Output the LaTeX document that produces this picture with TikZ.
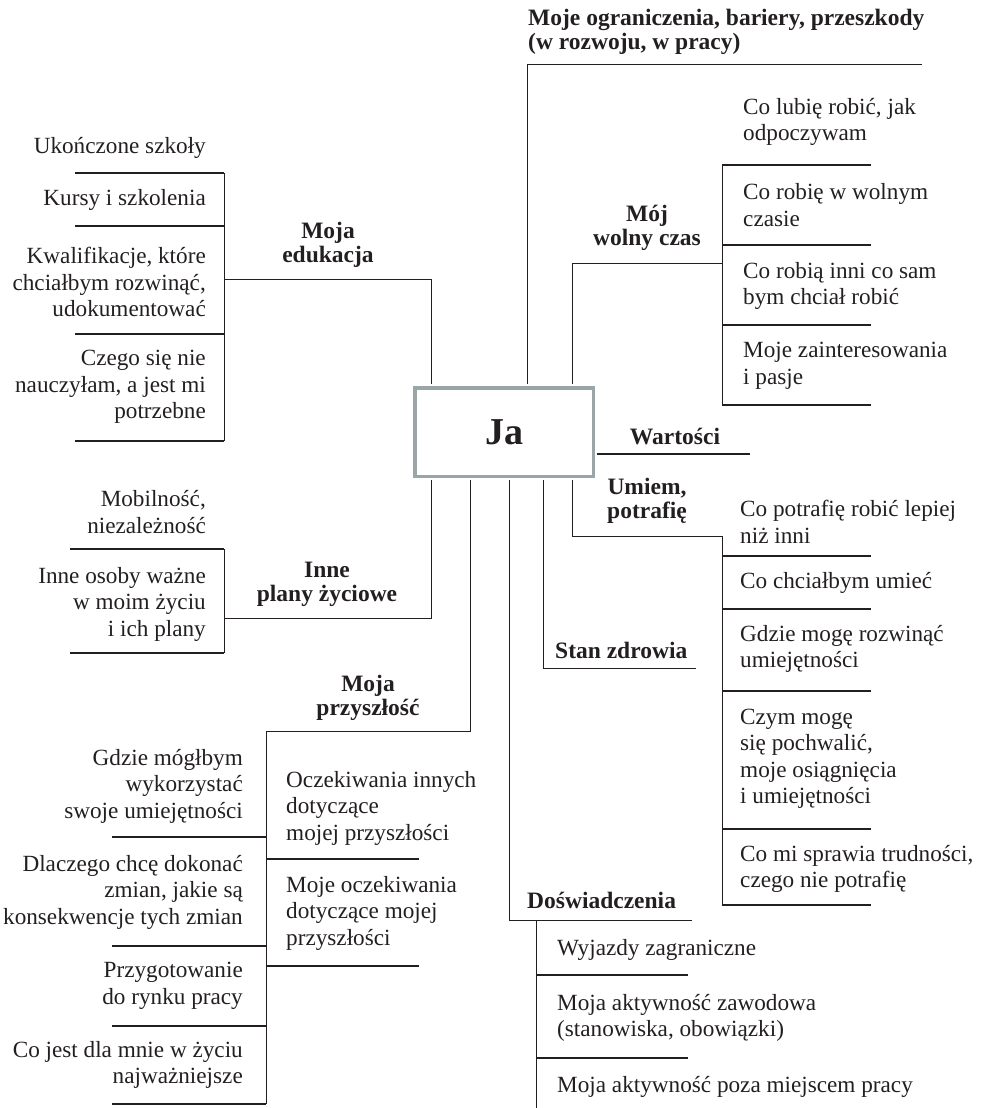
\documentclass[tikz,border=0pt]{standalone}
\usepackage{fontspec}
\setmainfont{Liberation Serif}
\usepackage{xcolor}
\usetikzlibrary{positioning}

\definecolor{ink}{HTML}{231F20}
\definecolor{boxgray}{HTML}{9AA5A8}

\begin{document}
\begin{tikzpicture}[x=1pt,y=-1pt,
      item/.style={
         font=\fontsize{23.2}{26.5}\selectfont,
         text=ink,
         inner sep=0pt},
      itemr/.style={item, align=right, anchor=east},
      iteml/.style={item, align=left, anchor=west},
      topic/.style={
         font=\fontsize{23.5}{24}\selectfont\bfseries,
         text=ink,
         inner sep=0pt,
         align=center},
      jabox/.style={
         draw=boxgray,
         line width=3.5pt,
         minimum width=178.5pt,
         minimum height=88.5pt,
         font=\fontsize{38}{40}\selectfont\bfseries,
         text=ink},
      conn/.style={draw=ink, line width=1pt},
      fromja/.style={conn, shorten <=1.75pt},
      sep/.style={draw=ink, line width=1.5pt}
      ]
      \useasboundingbox (0,0) rectangle (986,1108);

      \node[jabox] at (504, 432) (ja) {Ja};

      % turning points of the branches
      \coordinate (eduTurn) at (431, 279);  \coordinate (eduJ) at (224, 279);
      \coordinate (ogrTurn) at (527, 65);   \coordinate (ogrEnd) at (922, 65);
      \coordinate (wolTurn) at (572, 263);  \coordinate (wolJ) at (722, 263);
      \coordinate (warEnd) at (750, 454);
      \coordinate (umTurn) at (572, 536);   \coordinate (umJ) at (722, 536);
      \coordinate (stTurn) at (543, 668);   \coordinate (stEnd) at (696, 668);
      \coordinate (doTurn) at (509, 920);   \coordinate (doEnd) at (692, 920);
      \coordinate (prTurn) at (470, 731);   \coordinate (prJ) at (266, 731);
      \coordinate (inTurn) at (431, 618);   \coordinate (inJ) at (224, 618);

      \draw[fromja] (ja.north -| eduTurn) -- (eduTurn) -- (eduJ);
      \draw[fromja] (ja.north -| ogrTurn) -- (ogrTurn) -- (ogrEnd);
      \draw[fromja] (ja.north -| wolTurn) -- (wolTurn) -- (wolJ);
      \draw[sep, shorten <=1.75pt] (ja.east |- warEnd) -- (warEnd);
      \draw[fromja] (ja.south -| umTurn) -- (umTurn) -- (umJ);
      \draw[fromja] (ja.south -| stTurn) -- (stTurn) -- (stEnd);
      \draw[fromja] (ja.south -| doTurn) -- (doTurn) -- (doEnd);
      \draw[fromja] (ja.south -| prTurn) -- (prTurn) -- (prJ);
      \draw[fromja] (ja.south -| inTurn) -- (inTurn) -- (inJ);

      % columns: name/x/top/bottom
      \foreach \n/\x/\t/\b in {edu/224/173/441, inn/224/549/653,
                               prz/266/731/1104, wol/722/165/405,
                               umi/722/536/905, dos/536/920/1108}{
        \coordinate (\n Top) at (\x, \t);
        \coordinate (\n Bot) at (\x, \b);
        \draw[conn] (\n Top) -- (\n Bot);
      }

      % separators under the items: column/y/length
      \foreach \n/\y/\l in {edu/173/-149, edu/226/-149, edu/334/-149, edu/441/-149,
                            inn/549/-154, inn/653/-154,
                            prz/837/-154, prz/946/-154, prz/1026/-154, prz/1104/-154,
                            prz/859/153, prz/966/153,
                            wol/165/149, wol/245/149, wol/325/149, wol/405/149,
                            umi/556/149, umi/609/149, umi/691/149, umi/829/149, umi/905/149,
                            dos/975/152, dos/1058/152}
        \draw[sep] (\n Top |- 0,\y) -- ++(\l, 0);

      % topics
      \node[topic, anchor=west, align=left] at (528, 32) (ogr)
           {Moje ograniczenia, bariery, przeszkody\\(w rozwoju, w pracy)};
      \node[topic] at (328, 245) (edu) {Moja\\edukacja};
      \node[topic] at (647, 228) (wol) {Mój\\wolny czas};
      \node[topic] at (675, 437) (war) {Wartości};
      \node[topic] at (647, 501) (umi) {Umiem,\\potrafię};
      \node[topic, anchor=west] at (555, 650) (sta) {Stan zdrowia};
      \node[topic, anchor=west] at (527, 900) (dos) {Doświadczenia};
      \node[topic] at (327, 584) (inn) {Inne\\plany życiowe};
      \node[topic] at (368, 698) (prz) {Moja\\przyszłość};

      % items of Moja edukacja
      \node[itemr] at (206, 148) (edu1) {Ukończone szkoły};
      \node[itemr] at (206, 200) (edu2) {Kursy i szkolenia};
      \node[itemr] at (206, 282) (edu3) {Kwalifikacje, które\\chciałbym rozwinąć,\\udokumentować};
      \node[itemr] at (206, 387) (edu4) {Czego się nie\\nauczyłam, a jest mi\\potrzebne};

      % items of Inne plany
      \node[itemr] at (206, 512) (inn1) {Mobilność,\\niezależność};
      \node[itemr] at (206, 604) (inn2) {Inne osoby ważne\\w moim życiu\\i ich plany};

      % items of Moja przyszlosc
      \node[itemr] at (243, 786) (prz1) {Gdzie mógłbym\\wykorzystać\\swoje umiejętności};
      \node[itemr] at (243, 892) (prz2) {Dlaczego chcę dokonać\\zmian, jakie są\\konsekwencje tych zmian};
      \node[itemr] at (243, 986) (prz3) {Przygotowanie\\do rynku pracy};
      \node[itemr] at (243, 1065) (prz4) {Co jest dla mnie w życiu\\najważniejsze};
      \node[iteml] at (286, 808) (prz5) {Oczekiwania innych\\dotyczące\\mojej przyszłości};
      \node[iteml] at (286, 913) (prz6) {Moje oczekiwania\\dotyczące mojej\\przyszłości};

      % items of Moj wolny czas
      \node[iteml] at (743, 122) (wol1) {Co lubię robić, jak\\odpoczywam};
      \node[iteml] at (743, 205) (wol2) {Co robię w wolnym\\czasie};
      \node[iteml] at (743, 286) (wol3) {Co robią inni co sam\\bym chciał robić};
      \node[iteml] at (743, 366) (wol4) {Moje zainteresowania\\i pasje};

      % items of Umiem, potrafie
      \node[iteml] at (740, 522) (umi1) {Co potrafię robić lepiej\\niż inni};
      \node[iteml] at (740, 583) (umi2) {Co chciałbym umieć};
      \node[iteml] at (740, 649) (umi3) {Gdzie mogę rozwinąć\\umiejętności};
      \node[iteml] at (740, 759) (umi4) {Czym mogę\\się pochwalić,\\moje osiągnięcia\\i umiejętności};
      \node[iteml] at (740, 869) (umi5) {Co mi sprawia trudności,\\czego nie potrafię};

      % items of Doswiadczenia
      \node[iteml] at (557, 950) (dos1) {Wyjazdy zagraniczne};
      \node[iteml] at (557, 1018) (dos2) {Moja aktywność zawodowa\\(stanowiska, obowiązki)};
      \node[iteml] at (557, 1087) (dos3) {Moja aktywność poza miejscem pracy};

\end{tikzpicture}
\end{document}
